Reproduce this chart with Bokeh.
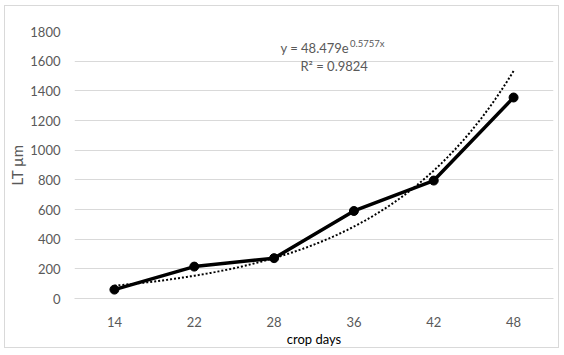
from bokeh.plotting import figure
from bokeh.models import Label, FactorRange, Range1d, SingleIntervalTicker
from bokeh.embed import file_html
from bokeh.resources import INLINE
import numpy as np

days = ["14", "22", "28", "36", "42", "48"]
lt_um = [60, 215, 272, 590, 795, 1355]
# exponential trendline printed on the chart: y = a * e^(b x), x = 1..n
trend_a = 48.479
trend_b = 0.5757
y_ticks_max = 1800

FONT = "Lato"
GRAY = "#595959"
LIGHT = "#d9d9d9"
W, H = 555, 343
BL, BR, BT, BB = 69, 7, 25, 50   # borders around the plot frame

p = figure(width=W, height=H, x_range=FactorRange(*days),
           y_range=Range1d(0, y_ticks_max), output_backend="svg",
           toolbar_location=None, min_border_left=BL, min_border_right=BR,
           min_border_top=BT, min_border_bottom=BB)
p.styles = {"margin-left": "4px", "margin-top": "5px",
            "border": "1px solid " + LIGHT}
p.outline_line_color = None
p.background_fill_color = "white"
p.border_fill_color = "white"

p.xgrid.grid_line_color = None
p.ygrid.grid_line_color = LIGHT
p.ygrid.grid_line_width = 1
p.yaxis.ticker = SingleIntervalTicker(interval=200)

for ax in (p.xaxis[0], p.yaxis[0]):
    ax.major_tick_line_color = None
    ax.minor_tick_line_color = None
    ax.major_label_text_font = FONT
    ax.major_label_text_font_size = "13px"
    ax.major_label_text_color = GRAY
    ax.axis_label_text_font = FONT
    ax.axis_label_text_font_style = "normal"
p.yaxis.axis_line_color = None
p.xaxis.axis_line_color = LIGHT
p.yaxis.major_label_standoff = 8
p.xaxis.major_label_standoff = 12
p.yaxis.axis_label = "LT µm"
p.yaxis.axis_label_text_font_size = "15px"
p.yaxis.axis_label_text_color = GRAY
p.yaxis.axis_label_standoff = 1
p.xaxis.axis_label = "crop days"
p.xaxis.axis_label_text_font_size = "13px"
p.xaxis.axis_label_text_color = "black"
p.xaxis.axis_label_standoff = 1

# trendline
n = len(days)
t = np.linspace(1, n, 200)
p.line(t - 0.5, trend_a * np.exp(trend_b * t), line_color="black",
       line_width=2, line_dash="2 2")

p.line(days, lt_um, line_color="black", line_width=3.5)
p.scatter(days, lt_um, size=9, color="black")

p.add_layout(Label(x=2.58, y=1686, text="y = 48.479e", text_font=FONT,
                   text_font_size="13px", text_color=GRAY, text_baseline="middle"))
p.add_layout(Label(x=3.45, y=1719, text="0.5757x", text_font=FONT,
                   text_font_size="9.5px", text_color=GRAY, text_baseline="middle"))
p.add_layout(Label(x=2.83, y=1565, text="R² = 0.9824", text_font=FONT,
                   text_font_size="13px", text_color=GRAY, text_baseline="middle"))

open("out.html", "w").write(file_html(p, INLINE))
